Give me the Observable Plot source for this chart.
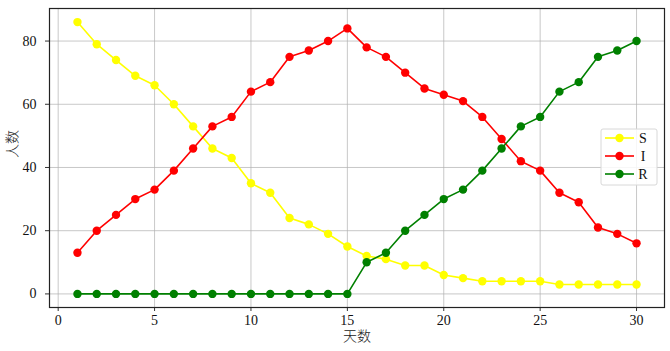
<!DOCTYPE html>
<html>
<head>
<meta charset="utf-8">
<script src="https://cdn.jsdelivr.net/npm/d3@7"></script>
<script src="https://cdn.jsdelivr.net/npm/@observablehq/plot@0.6"></script>
<style>
  html, body { margin: 0; padding: 0; background: #fff; }
  #chart { position: relative; width: 670px; height: 351px; }
  #chart svg text { font-family: 'Liberation Serif', 'Noto Sans CJK SC', serif; }
</style>
</head>
<body>
<div id="chart"></div>
<script>
const days = d3.range(1, 31);
const S = [86,79,74,69,66,60,53,46,43,35,32,24,22,19,15,12,11,9,9,6,5,4,4,4,4,3,3,3,3,3];
const I = [13,20,25,30,33,39,46,53,56,64,67,75,77,80,84,78,75,70,65,63,61,56,49,42,39,32,29,21,19,16];
const R = [0,0,0,0,0,0,0,0,0,0,0,0,0,0,0,10,13,20,25,30,33,39,46,53,56,64,67,75,77,80];
const seriesNames = ["S","I","R"];
const seriesColors = ["#ffff00","#ff0000","#008000"];
const xTicks = [0,5,10,15,20,25,30];
const yTicks = [0,20,40,60,80];
const xLabel = "天数";
const yLabel = "人数";

const seriesValues = [S, I, R];
const rows = [];
seriesNames.forEach((name, k) => {
  days.forEach((d, i) => rows.push({day: d, value: seriesValues[k][i], series: name}));
});

const FONT = "'Liberation Serif', 'Noto Sans CJK SC', serif";

const marks = [
  Plot.gridX(xTicks, {stroke: "#b0b0b0", strokeOpacity: 0.7, strokeWidth: 1}),
  Plot.gridY(yTicks, {stroke: "#b0b0b0", strokeOpacity: 0.7, strokeWidth: 1}),
  Plot.axisX(xTicks, {tickSize: 4, tickPadding: 4, fontSize: 14, label: null, stroke: "#333", fill: "#111"}),
  Plot.axisY(yTicks, {tickSize: 4, tickPadding: 9, fontSize: 14, label: null, stroke: "#333", fill: "#111"}),
  Plot.text([xLabel], {frameAnchor: "bottom", dy: 33, fontSize: 14, fill: "#222", fontWeight: 300}),
  Plot.text([yLabel], {frameAnchor: "left", dx: -37, rotate: -90, fontSize: 14, fill: "#222", fontWeight: 300})
];
seriesNames.forEach((name, k) => {
  const data = rows.filter(r => r.series === name);
  marks.push(Plot.line(data, {x: "day", y: "value", stroke: seriesColors[k], strokeWidth: 1.6}));
  marks.push(Plot.dot(data, {x: "day", y: "value", fill: seriesColors[k], r: 4.2, stroke: "none"}));
});
marks.push(Plot.frame({stroke: "#222", strokeWidth: 1.2}));

const chart = Plot.plot({
  width: 670,
  height: 351,
  marginLeft: 49,
  marginRight: 6,
  marginTop: 8,
  marginBottom: 44,
  style: {fontFamily: FONT, fontSize: "14px", background: "#fff", color: "#111"},
  x: {domain: [-0.45, 31.45]},
  y: {domain: [-4.3, 90.3]},
  marks
});
document.getElementById("chart").appendChild(chart);

// Legend
const svg = d3.select(chart);
const lg = svg.append("g").attr("transform", "translate(601,129)");
lg.append("rect").attr("width", 56).attr("height", 56).attr("rx", 2)
  .attr("fill", "#fff").attr("fill-opacity", 0.85).attr("stroke", "#d8d8d8");
seriesNames.forEach((name, k) => {
  const y = 9 + k * 18;
  lg.append("line").attr("x1", 4).attr("x2", 33).attr("y1", y).attr("y2", y)
    .attr("stroke", seriesColors[k]).attr("stroke-width", 1.6);
  lg.append("circle").attr("cx", 18.5).attr("cy", y).attr("r", 4.2).attr("fill", seriesColors[k]);
  lg.append("text").attr("x", 42).attr("y", y).attr("dy", "0.35em")
    .style("font-size", "14px").style("font-family", FONT).attr("fill", "#111").text(name);
});
</script>
</body>
</html>
